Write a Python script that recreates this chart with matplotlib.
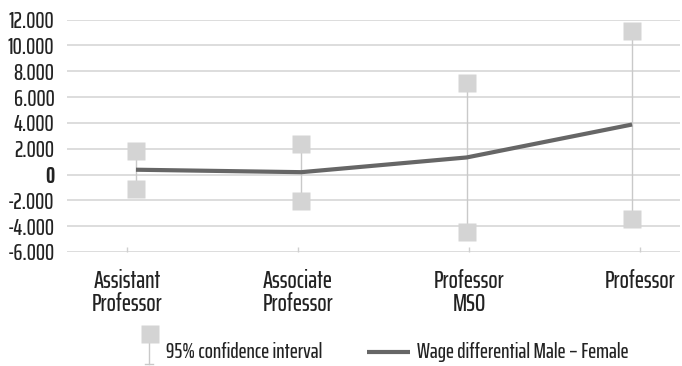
import matplotlib
matplotlib.use("Agg")
import matplotlib.pyplot as plt
from matplotlib.lines import Line2D
from matplotlib.ticker import FixedLocator, FuncFormatter

FONT = "Saira ExtraCondensed"
WEIGHT = "medium"

categories = ["Assistant\nProfessor", "Associate\nProfessor", "Professor\nMSO", "Professor"]
wage_diff = [370, 180, 1320, 3870]
ci_upper = [1810, 2330, 7100, 11130]
ci_lower = [-1110, -2020, -4440, -3450]
y_ticks = [-6000, -4000, -2000, 0, 2000, 4000, 6000, 8000, 10000, 12000]

W, H = 682, 366
fig = plt.figure(figsize=(W / 100, H / 100), dpi=100)
ax = fig.add_axes([67 / W, 1 - 252 / H, 613 / W, 232.5 / H])

x = list(range(len(categories)))

# confidence intervals: thin whisker with square end caps
for xi, lo, hi in zip(x, ci_lower, ci_upper):
    ax.plot([xi, xi], [lo, hi], color="#c9c9c9", lw=1.0, zorder=2, solid_capstyle="butt")
ax.plot(x, ci_upper, ls="none", marker="s", ms=12.5, color="#d4d4d4", mec="none", zorder=3)
ax.plot(x, ci_lower, ls="none", marker="s", ms=12.5, color="#d4d4d4", mec="none", zorder=3)

# wage differential line
ax.plot(x, wage_diff, color="#666666", lw=3.0, solid_capstyle="butt", zorder=4)

ax.set_xlim(-0.417, 3.29)
ax.set_ylim(-6000, 12000)
ax.yaxis.set_major_locator(FixedLocator(y_ticks))
ax.yaxis.set_major_formatter(FuncFormatter(lambda v, p: f"{int(v):,}".replace(",", ".")))
ax.grid(axis="y", color="#dadada", lw=1.3)
ax.set_axisbelow(True)
for s in ax.spines.values():
    s.set_visible(False)
ax.set_xticks([])
ax.tick_params(axis="y", length=0, pad=9)
for lab in ax.get_yticklabels():
    lab.set_family(FONT)
    lab.set_fontsize(16.5)
    lab.set_fontweight(WEIGHT)
    lab.set_color("#222222")
    if lab.get_text() == "0":
        lab.set_fontweight("bold")

# category axis with its own, slightly wider band spacing
cax = ax.twiny()
cax.set_xlim(-0.351, 3.234)
cax.xaxis.set_ticks_position("bottom")
cax.xaxis.set_label_position("bottom")
cax.set_xticks(x)
cax.set_xticklabels(categories, family=FONT, fontsize=17.5, fontweight=WEIGHT,
                    color="#222222", linespacing=0.95)
cax.tick_params(axis="x", direction="in", length=3.5, width=1, color="#cfcfcf", pad=12)
for s in cax.spines.values():
    s.set_visible(False)

# legend drawn in figure pixel space
def fx(px):
    return px / W

def fy(py):
    return 1 - py / H

fig.add_artist(Line2D([fx(149), fx(149)], [fy(341), fy(364)], color="#c9c9c9", lw=1.0,
                      transform=fig.transFigure))
fig.add_artist(Line2D([fx(145), fx(153)], [fy(364), fy(364)], color="#c9c9c9", lw=1.0,
                      transform=fig.transFigure))
fig.add_artist(Line2D([fx(150)], [fy(333.5)], ls="none", marker="s", ms=12.5, color="#d4d4d4",
                      mec="none", transform=fig.transFigure))
fig.text(fx(166), fy(352.5), "95% confidence interval", family=FONT, fontsize=15.5,
         fontweight=WEIGHT, color="#222222", va="center", ha="left")
fig.add_artist(Line2D([fx(367), fx(410)], [fy(352), fy(352)], color="#666666", lw=3.0,
                      solid_capstyle="butt", transform=fig.transFigure))
fig.text(fx(417), fy(352.5), "Wage differential Male \u2013 Female", family=FONT, fontsize=15.5,
         fontweight=WEIGHT, color="#222222", va="center", ha="left")

fig.savefig("out.png", dpi=100)
